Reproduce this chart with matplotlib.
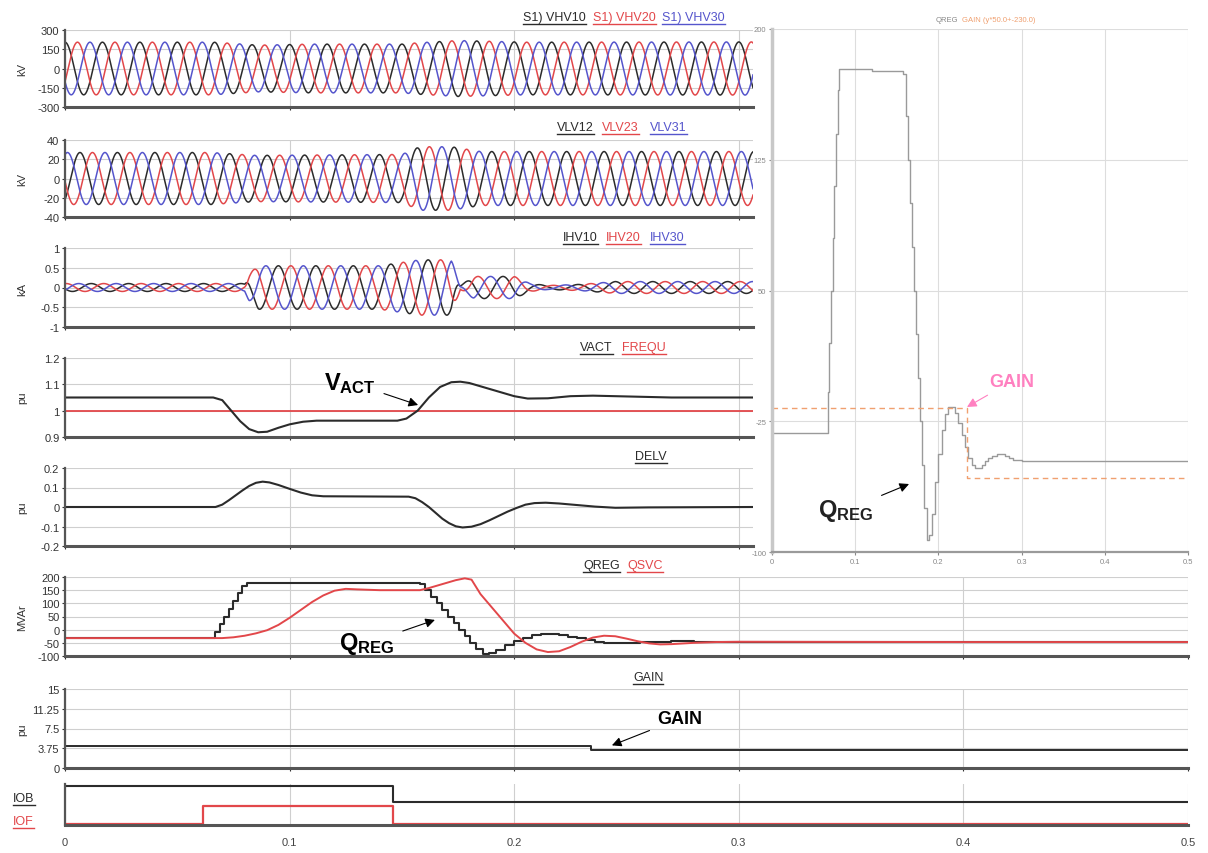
import numpy as np
import matplotlib
matplotlib.use("Agg")
import matplotlib.pyplot as plt
from matplotlib.lines import Line2D
from matplotlib.transforms import IdentityTransform

plt.rcParams['font.family'] = ['Liberation Sans', 'DejaVu Sans']
plt.rcParams['mathtext.fontset'] = 'custom'
plt.rcParams['mathtext.bf'] = 'Liberation Sans:bold'
plt.rcParams['mathtext.rm'] = 'Liberation Sans'
plt.rcParams['axes.unicode_minus'] = False

# ---------------- data ----------------
FREQ = 60.0          # Hz, system frequency of the waveforms
T_UPPER = 0.3063     # visible end of the upper (short) panels, s

# envelopes (peak values) of the three-phase waveforms
vhv_env_t = [0, 0.066, 0.086, 0.11, 0.15, 0.157, 0.175, 0.205, 0.3063]
vhv_env = [205, 205, 182, 190, 190, 200, 218, 205, 207]
vhv_phase = [0, -120, -240]

vlv_env_t = [0, 0.065, 0.085, 0.15, 0.158, 0.172, 0.185, 0.3063]
vlv_env = [27, 27, 24, 25, 33, 33, 28, 28]
vlv_phase = [-144, -264, -24]

ihv_env_t = [0, 0.08, 0.082, 0.086, 0.14, 0.158, 0.172, 0.176, 0.182,
             0.2, 0.207, 0.215, 0.23, 0.245, 0.3063]
ihv_env = [0.1, 0.1, 0.35, 0.55, 0.55, 0.7, 0.7, 0.05, 0.28,
           0.28, 0.1, 0.05, 0.08, 0.15, 0.15]
ihv_phase = [-252, -372, -492]

vact_t = [0, 0.066, 0.07, 0.074, 0.078, 0.082, 0.086, 0.09, 0.095, 0.1,
          0.106, 0.112, 0.148, 0.152, 0.157, 0.162, 0.167, 0.172, 0.176, 0.18,
          0.19, 0.2, 0.206, 0.215, 0.225, 0.235, 0.25, 0.27, 0.3063]
vact = [1.05, 1.05, 1.04, 1.0, 0.96, 0.93, 0.918, 0.92, 0.935, 0.948,
        0.958, 0.962, 0.962, 0.97, 1.0, 1.05, 1.09, 1.108, 1.11, 1.105,
        1.08, 1.055, 1.046, 1.047, 1.055, 1.057, 1.054, 1.05, 1.05]
frequ_t = [0, 0.3063]
frequ = [1.0, 1.0]

delv_t = [0, 0.067, 0.07, 0.073, 0.076, 0.079, 0.082, 0.085, 0.088, 0.091,
          0.095, 0.1, 0.105, 0.11, 0.115, 0.153, 0.156, 0.159, 0.162, 0.165,
          0.168, 0.171, 0.174, 0.177, 0.181, 0.185, 0.189, 0.193, 0.197, 0.201,
          0.205, 0.209, 0.214, 0.22, 0.228, 0.236, 0.245, 0.26, 0.3063]
delv = [0, 0, 0.012, 0.035, 0.06, 0.085, 0.108, 0.124, 0.13, 0.126,
        0.113, 0.093, 0.074, 0.06, 0.055, 0.053, 0.045, 0.025, 0.0, -0.03,
        -0.06, -0.083, -0.099, -0.105, -0.101, -0.088, -0.068, -0.046, -0.024, -0.005,
        0.012, 0.02, 0.022, 0.018, 0.01, 0.002, -0.004, -0.002, 0.0]

qreg_t = [0, 0.067, 0.069, 0.071, 0.073, 0.075, 0.077, 0.079, 0.081, 0.12,
          0.158, 0.1605, 0.163, 0.1655, 0.168, 0.1705, 0.173, 0.1755, 0.178, 0.1805,
          0.183, 0.186, 0.189, 0.192, 0.196, 0.2, 0.204, 0.208, 0.212, 0.216,
          0.22, 0.224, 0.228, 0.232, 0.236, 0.24, 0.244, 0.248, 0.252, 0.256,
          0.26, 0.265, 0.27, 0.275, 0.28, 0.285, 0.29, 0.3, 0.32, 0.35,
          0.4, 0.45, 0.5]
qreg = [-32, -8, 20, 50, 80, 110, 140, 165, 177, 176,
        174, 150, 125, 100, 75, 50, 25, 0, -25, -50,
        -75, -93, -90, -78, -60, -44, -30, -21, -17, -17,
        -20, -26, -33, -40, -46, -50, -52, -52, -50, -48,
        -46, -45, -44, -44, -45, -46, -47, -48, -48, -48,
        -48, -48, -48]

qsvc_t = [0, 0.07, 0.075, 0.08, 0.085, 0.09, 0.095, 0.1, 0.105, 0.11,
          0.115, 0.12, 0.125, 0.13, 0.14, 0.158, 0.162, 0.166, 0.17, 0.174,
          0.178, 0.181, 0.185, 0.19, 0.195, 0.2, 0.205, 0.21, 0.215, 0.22,
          0.225, 0.23, 0.235, 0.24, 0.245, 0.25, 0.255, 0.26, 0.265, 0.27,
          0.28, 0.29, 0.3, 0.4, 0.5]
qsvc = [-32, -32, -29, -23, -14, -2, 18, 45, 75, 105,
        130, 148, 155, 153, 150, 150, 158, 168, 178, 188,
        195, 190, 135, 85, 35, -15, -50, -75, -85, -82,
        -66, -46, -30, -23, -25, -34, -44, -52, -56, -55,
        -50, -47, -46, -47, -47]

gain_t = [0, 0.234, 0.5]
gain = [4.25, 3.45, 3.45]

iob_t = [0, 0.146, 0.5]
iob = [1, 0, 0]
iof_t = [0, 0.0615, 0.146, 0.5]
iof = [0, 1, 0, 0]

# ---------------- figure ----------------
W, H = 1208, 854
fig = plt.figure(figsize=(W / 100, H / 100), dpi=100)

BLK = '#2b2b2b'
RED = '#e2474a'
BLU = '#5555cc'
GRID = '#cfcfcf'


def px_axes(left, top, right, bottom):
    return fig.add_axes([left / W, 1 - bottom / H, (right - left) / W, (bottom - top) / H])


def style(ax, yticks, xmax, xlabels=False):
    ax.set_xlim(0, xmax)
    ax.set_ylim(yticks[0], yticks[-1])
    ax.set_yticks(yticks)
    ax.set_yticklabels(['%g' % v for v in yticks])
    xt = [v for v in [0, 0.1, 0.2, 0.3, 0.4, 0.5] if v <= xmax + 1e-9]
    ax.set_xticks(xt)
    ax.set_xticklabels(['%g' % v for v in xt] if xlabels else [])
    ax.grid(True, color=GRID, lw=0.8)
    ax.set_axisbelow(True)
    for s in ['top', 'right']:
        ax.spines[s].set_visible(False)
    ax.spines['left'].set_color('#555555')
    ax.spines['left'].set_linewidth(1.6)
    ax.spines['bottom'].set_color('#555555')
    ax.spines['bottom'].set_linewidth(2.2)
    ax.tick_params(axis='both', length=2, labelsize=8, colors='#333333', pad=2)


t_wave = np.linspace(0, T_UPPER, 4000)


def wave(env_t, env_v, phase_deg):
    return np.interp(t_wave, env_t, env_v) * np.cos(2 * np.pi * FREQ * t_wave + np.radians(phase_deg))


colors3 = [BLK, RED, BLU]

# panel 1: VHV
ax1 = px_axes(65, 31, 753, 108)
for ph, c in zip(vhv_phase, colors3):
    ax1.plot(t_wave, wave(vhv_env_t, vhv_env, ph), color=c, lw=1.1)
style(ax1, [-300, -150, 0, 150, 300], T_UPPER)

# panel 2: VLV
ax2 = px_axes(65, 141, 753, 218)
for ph, c in zip(vlv_phase, colors3):
    ax2.plot(t_wave, wave(vlv_env_t, vlv_env, ph), color=c, lw=1.1)
style(ax2, [-40, -20, 0, 20, 40], T_UPPER)

# panel 3: IHV
ax3 = px_axes(65, 249, 753, 328)
for ph, c in zip(ihv_phase, colors3):
    ax3.plot(t_wave, wave(ihv_env_t, ihv_env, ph), color=c, lw=1.1)
style(ax3, [-1, -0.5, 0, 0.5, 1], T_UPPER)

# panel 4: VACT / FREQU
ax4 = px_axes(65, 359, 753, 438)
ax4.plot(frequ_t, frequ, color=RED, lw=1.3)
ax4.plot(vact_t, vact, color=BLK, lw=1.5)
style(ax4, [0.9, 1.0, 1.1, 1.2], T_UPPER)

# panel 5: DELV
ax5 = px_axes(65, 469, 753, 547)
ax5.plot(delv_t, delv, color=BLK, lw=1.5)
style(ax5, [-0.2, -0.1, 0, 0.1, 0.2], T_UPPER)

# panel 6: QREG / QSVC
ax6 = px_axes(65, 578, 1188, 657)
ax6.plot(qreg_t, qreg, color=BLK, lw=1.5, drawstyle='steps-post')
ax6.plot(qsvc_t, qsvc, color=RED, lw=1.4)
style(ax6, [-100, -50, 0, 50, 100, 150, 200], 0.5)

# panel 7: GAIN
ax7 = px_axes(65, 690, 1188, 769)
ax7.plot(gain_t, gain, color=BLK, lw=1.4, drawstyle='steps-post')
style(ax7, [0, 3.75, 7.5, 11.25, 15], 0.5)

# panel 8: IOB / IOF (logic tracks)
ax8 = px_axes(65, 785, 1188, 826)
ax8.plot(iob_t, 0.56 + 0.39 * np.array(iob), color=BLK, lw=1.5, drawstyle='steps-post')
ax8.plot(iof_t, 0.03 + 0.43 * np.array(iof), color=RED, lw=1.6, drawstyle='steps-post')
style(ax8, [0, 1], 0.5, xlabels=True)
ax8.set_yticks([])
ax8.grid(False, axis='y')
ax8.tick_params(axis='x', length=0, pad=9, labelsize=8, colors='#444444')

# y axis units
for txt, yc in [('kV', 69), ('kV', 179), ('kA', 289), ('pu', 398),
                ('pu', 508), ('MVAr', 618), ('pu', 730)]:
    fig.text(22 / W, 1 - yc / H, txt, rotation=90, ha='center', va='center',
             fontsize=8, color='#333333')

# inset: QREG and scaled GAIN
axi = px_axes(772, 30, 1188, 553)
axi.plot(qreg_t, qreg, color='#9a9a9a', lw=1.0, drawstyle='steps-post')
axi.plot(gain_t, np.array(gain) * 50.0 - 230.0, color='#f0a070', lw=1.0,
         ls=(0, (4, 3)), drawstyle='steps-post')
axi.set_xlim(0, 0.5)
axi.set_ylim(-100, 200)
axi.set_yticks([-100, -25, 50, 125, 200])
axi.set_xticks([0, 0.1, 0.2, 0.3, 0.4, 0.5])
axi.set_xticklabels(['0', '0.1', '0.2', '0.3', '0.4', '0.5'])
axi.grid(True, color='#dddddd', lw=0.8)
axi.set_axisbelow(True)
for s in ['top', 'right']:
    axi.spines[s].set_visible(False)
axi.spines['left'].set_color('#c8c8c8')
axi.spines['left'].set_linewidth(2.5)
axi.spines['bottom'].set_color('#9a9a9a')
axi.spines['bottom'].set_linewidth(1.6)
axi.tick_params(axis='both', length=2, labelsize=5.5, colors='#888888', pad=2)
fig.text(958 / W, 1 - 20 / H, 'QREG', fontsize=5.5, color='#888888', ha='right', va='center')
fig.text(962 / W, 1 - 20 / H, 'GAIN (y*50.0+-230.0)', fontsize=5.5, color='#f0a070',
         ha='left', va='center')

# ---------------- annotations ----------------
arw = dict(arrowstyle='-|>', color='black', lw=0.8, mutation_scale=14, shrinkA=4, shrinkB=0)
ax4.annotate(r'$\mathbf{V_{ACT}}$', xy=(0.1572, 1.0215), xytext=(0.1269, 1.108),
             ha='center', va='center', fontsize=17, arrowprops=arw, annotation_clip=False)
ax6.annotate(r'$\mathbf{Q_{REG}}$', xy=(0.1647, 37), xytext=(0.1345, -52),
             ha='center', va='center', fontsize=17, arrowprops=arw, annotation_clip=False)
ax7.annotate('GAIN', xy=(0.2435, 4.3), xytext=(0.2738, 9.4), ha='center', va='center',
             fontsize=13, fontweight='bold', arrowprops=arw, annotation_clip=False)
axi.annotate('GAIN', xy=(0.2344, -16.8), xytext=(0.2885, -2), ha='center', va='center',
             fontsize=13, fontweight='bold', color='#ff80c0',
             arrowprops=dict(arw, color='#ff80c0'), annotation_clip=False)
axi.annotate(r'$\mathbf{Q_{REG}}$', xy=(0.1647, -61), xytext=(0.0889, -76),
             ha='center', va='center', fontsize=17, color='#222222',
             arrowprops=arw, annotation_clip=False)

# ---------------- underlined signal names ----------------
legend_items = [
    (523, 18, 'S1) VHV10', BLK), (593, 18, 'S1) VHV20', RED), (662, 18, 'S1) VHV30', BLU),
    (557, 128, 'VLV12', BLK), (602, 128, 'VLV23', RED), (650, 128, 'VLV31', BLU),
    (563, 238, 'IHV10', BLK), (606, 238, 'IHV20', RED), (650, 238, 'IHV30', BLU),
    (580, 348, 'VACT', BLK), (622, 348, 'FREQU', RED),
    (635, 457, 'DELV', BLK),
    (583, 566, 'QREG', BLK), (627, 566, 'QSVC', RED),
    (633, 678, 'GAIN', BLK),
    (13, 799, 'IOB', BLK), (13, 822, 'IOF', RED),
]
texts = []
for x, y, s, c in legend_items:
    texts.append((fig.text(x / W, 1 - y / H, s, fontsize=9, color=c, ha='left', va='center'), c))

fig.canvas.draw()
for t, c in texts:
    bb = t.get_window_extent()
    fig.add_artist(Line2D([bb.x0, bb.x1], [bb.y0 - 1, bb.y0 - 1], transform=IdentityTransform(),
                          color=c, lw=1.0))

fig.savefig('out.png', dpi=100)
